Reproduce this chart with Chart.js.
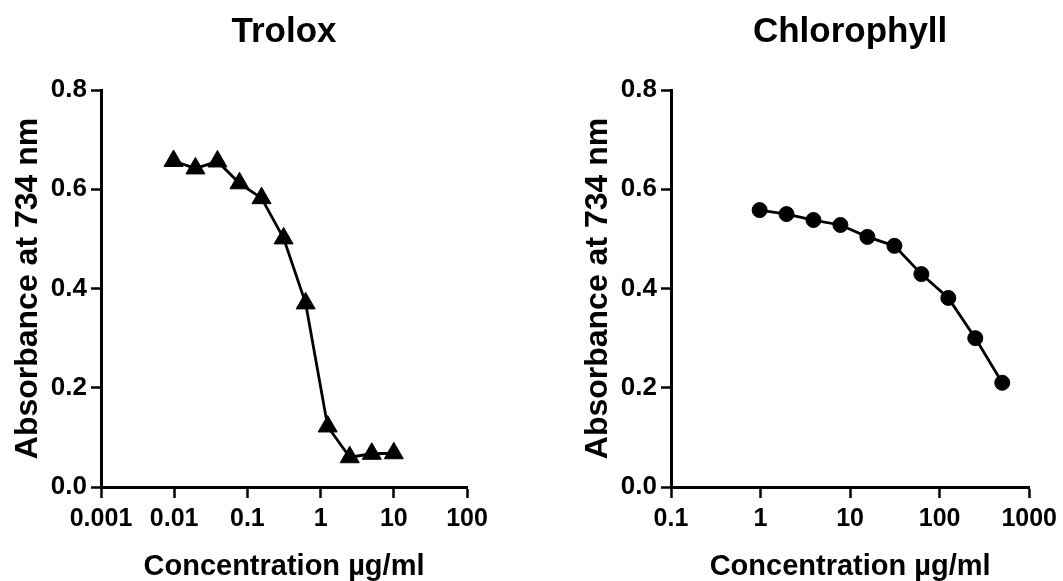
<!DOCTYPE html>
<html>
<head>
<meta charset="utf-8">
<script src="https://cdn.jsdelivr.net/npm/chart.js@4/dist/chart.umd.min.js"></script>
<style>
  html, body { margin: 0; padding: 0; background: #fff; overflow: hidden; width: 1063px; height: 581px; }
  canvas { position: absolute; top: 0; }
  #c1 { left: 0px; }
  #c2 { left: 570px; }
</style>
</head>
<body>
<canvas id="c1" width="531" height="581"></canvas>
<canvas id="c2" width="493" height="581"></canvas>
<script>
// ---- data ----
const troloxConc = [0.0098, 0.0195, 0.039, 0.078, 0.156, 0.3125, 0.625, 1.25, 2.5, 5, 10];
const troloxAbs  = [0.657, 0.642, 0.656, 0.612, 0.582, 0.501, 0.370, 0.122, 0.060, 0.067, 0.068];
const chloroConc = [0.977, 1.95, 3.9, 7.8, 15.6, 31.25, 62.5, 125, 250, 500];
const chloroAbs  = [0.558, 0.550, 0.538, 0.528, 0.504, 0.486, 0.429, 0.381, 0.300, 0.210];
const troloxXTicks = [0.001, 0.01, 0.1, 1, 10, 100];
const chloroXTicks = [0.1, 1, 10, 100, 1000];
const yTicks = [0, 0.2, 0.4, 0.6, 0.8];
const titles = ['Trolox', 'Chlorophyll'];
const xTitle = 'Concentration µg/ml';
const yTitle = 'Absorbance at 734 nm';

const FONT = '"Liberation Sans", Arial, sans-serif';

function makeChart(id, title, xs, ys, xTicks, pointStyle, radius, padRight) {
  const pts = xs.map((x, i) => ({ x: x, y: ys[i] }));
  return new Chart(document.getElementById(id), {
    type: 'line',
    data: { datasets: [{
      data: pts,
      borderColor: '#000', backgroundColor: '#000',
      borderWidth: 2.8, tension: 0,
      pointStyle: pointStyle, pointRadius: radius, pointHoverRadius: radius,
      pointBackgroundColor: '#000', pointBorderColor: '#000', pointBorderWidth: 1
    }]},
    options: {
      responsive: false, animation: false, devicePixelRatio: 1,
      layout: { padding: { left: 0, right: padRight, top: 0, bottom: 0 } },
      plugins: {
        legend: { display: false }, tooltip: { enabled: false },
        title: { display: true, text: title, color: '#000', fullSize: false,
          font: { family: FONT, size: 35, weight: 'bold', lineHeight: 1.2 },
          padding: { top: 11, bottom: 37 } }
      },
      scales: {
        x: {
          type: 'logarithmic', min: xTicks[0], max: xTicks[xTicks.length - 1],
          afterBuildTicks: s => { s.ticks = xTicks.map(v => ({ value: v })); },
          afterFit: s => { s.height = 94; },
          grid: { display: true, drawOnChartArea: false, drawTicks: true, tickLength: 11, tickWidth: 2.5, tickColor: '#000', color: '#000' },
          border: { display: true, color: '#000', width: 3 },
          ticks: { color: '#000', padding: 6, maxRotation: 0, autoSkip: false,
            font: { family: FONT, size: 25, weight: 'bold' },
            callback: v => String(v) },
          title: { display: true, text: xTitle, color: '#000', padding: 0,
            font: { family: FONT, size: 29, weight: 'bold', lineHeight: 1.0 } }
        },
        y: {
          type: 'linear', min: 0, max: 0.8,
          afterBuildTicks: s => { s.ticks = yTicks.map(v => ({ value: v })); },
          afterFit: s => { s.width = 101; },
          grid: { display: true, drawOnChartArea: false, drawTicks: true, tickLength: 10, tickWidth: 2.5, tickColor: '#000', color: '#000' },
          border: { display: true, color: '#000', width: 3 },
          ticks: { color: '#000', padding: 4,
            font: { family: FONT, size: 26, weight: 'bold' },
            callback: v => Number(v).toFixed(1) },
          title: { display: true, text: yTitle, color: '#000', padding: { top: 9, bottom: 0 },
            font: { family: FONT, size: 32, weight: 'bold', lineHeight: 1.2 } }
        }
      }
    }
  });
}

makeChart('c1', titles[0], troloxConc, troloxAbs, troloxXTicks, 'triangle', 11, 64);
makeChart('c2', titles[1], chloroConc, chloroAbs, chloroXTicks, 'circle', 7.5, 28);
</script>
</body>
</html>
